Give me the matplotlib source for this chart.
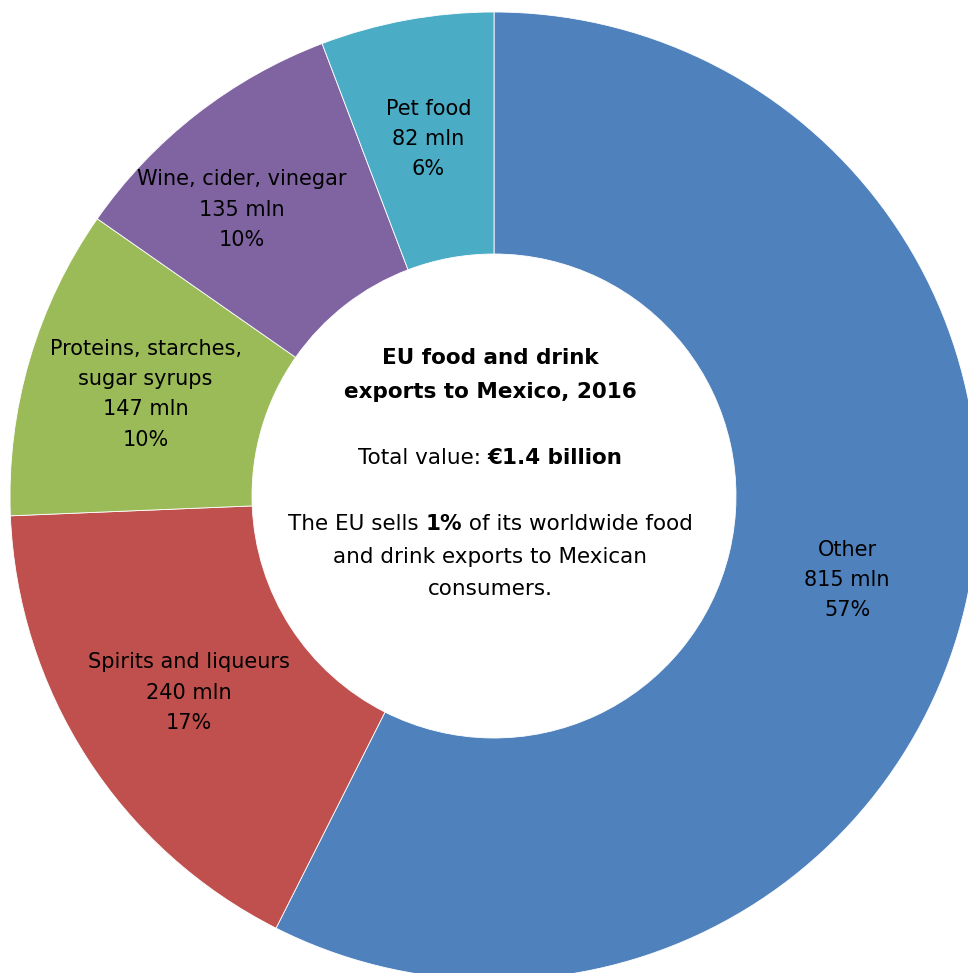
import numpy as np
import matplotlib.pyplot as plt

# data (EUR million)
categories = ["Other", "Spirits and liqueurs", "Proteins, starches,\nsugar syrups",
              "Wine, cider, vinegar", "Pet food"]
values = [815, 240, 147, 135, 82]
colors = ["#4F81BD", "#C0504D", "#9BBB59", "#8064A2", "#4BACC6"]
# small manual nudges of the labels (pixels), as in the original layout
label_dx = [0, 0, 0, -29, 0]

W, H = 968, 973
FONT = "DejaVu Sans"
FS = 15
FS_C = 15.5

fig = plt.figure(figsize=(W / 100, H / 100), dpi=100)
ax = fig.add_axes([0, 0, 1, 1])

cx, cy = 494, H - 496
R = 484
wedges, _ = ax.pie(values, colors=colors, startangle=90, counterclock=False,
                   radius=R, center=(cx, cy),
                   wedgeprops=dict(width=R / 2, edgecolor="white", linewidth=0.6))
ax.set_xlim(0, W)
ax.set_ylim(0, H)
ax.set_aspect("equal")
ax.axis("off")

total = sum(values)
for w, cat, v, dx in zip(wedges, categories, values, label_dx):
    mid = np.deg2rad((w.theta1 + w.theta2) / 2)
    r = R * 0.75
    x = cx + r * np.cos(mid) + dx
    y = cy + r * np.sin(mid)
    pct = round(v / total * 100)
    ax.text(x, y, f"{cat}\n{v} mln\n{pct}%", ha="center", va="center",
            fontsize=FS, family=FONT, linespacing=1.65, color="black")

# centre text, built run by run so bold words can sit inside a line
fig.canvas.draw()
renderer = fig.canvas.get_renderer()


def runs_line(runs, xc, y_px):
    y = H - y_px
    texts = []
    for s, weight in runs:
        t = ax.text(0, y, s, fontsize=FS_C, family=FONT, weight=weight,
                    ha="left", va="center", color="black")
        texts.append(t)
    widths = [t.get_window_extent(renderer).width for t in texts]
    x = xc - sum(widths) / 2
    for t, wd in zip(texts, widths):
        t.set_x(x)
        x += wd


center_lines = [
    ([("EU food and drink", "bold")], 358),
    ([("exports to Mexico, 2016", "bold")], 392),
    ([("Total value: ", "normal"), ("€1.4 billion", "bold")], 458),
    ([("The EU sells ", "normal"), ("1%", "bold"), (" of its worldwide food", "normal")], 524),
    ([("and drink exports to Mexican", "normal")], 557),
    ([("consumers.", "normal")], 589),
]
for runs, ypx in center_lines:
    runs_line(runs, 490, ypx)

fig.savefig("out.png", dpi=100)
